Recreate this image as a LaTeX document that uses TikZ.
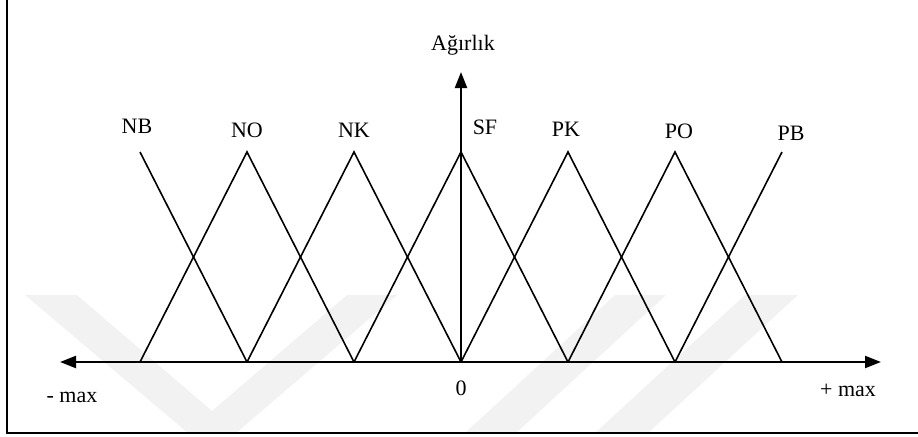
\documentclass[tikz,border=0pt]{standalone}
\usepackage{fontspec}
\setmainfont{Liberation Serif}
\usetikzlibrary{arrows.meta}
\tikzset{
    %Define standard arrow tip
    >={Triangle[length=8pt,width=6pt]},
    %Define style for labels
    lbl/.style={
           inner sep=0pt,
           font=\fontsize{11}{13}\selectfont},
    % Define line styles
    mf/.style={
           line width=0.8pt},
    axis/.style={
           line width=1.1pt},
    wmark/.style={
           fill=black!5,
           draw=none}
}

\begin{document}
\begin{tikzpicture}[x=0.5pt,y=-0.5pt]
\useasboundingbox (0,0) rectangle (918,436);
% faint bands behind the plot
\fill[wmark] (25,295) -- (77,295) -- (212,411) -- (347,295) -- (397,295) -- (236,433) -- (188,433) -- cycle;
\fill[wmark] (615,295) -- (666,295) -- (516,433) -- (465,433) -- cycle;
\fill[wmark] (745,295) -- (798,295) -- (648,433) -- (595,433) -- cycle;
% frame
\draw[line width=1.2pt] (7,0) -- (7,433) -- (918,433);
% peaks and feet of the membership functions
\foreach \i in {0,...,6} {
    \coordinate (p\i) at ({140+107*\i},152);
    \coordinate (b\i) at ({140+107*\i},362);
}
\coordinate (xl) at (60,362);
\coordinate (xr) at (881,362);
\coordinate (ytop) at (461,72);
% membership functions
\draw[mf] (p0) -- (b1);
\foreach \i [evaluate=\i as \l using int(\i-1), evaluate=\i as \r using int(\i+1)] in {1,...,5}
    \draw[mf] (b\l) -- (p\i) -- (b\r);
\draw[mf] (b5) -- (p6);
% axes
\draw[axis,<->] (xl) -- (xr);
\draw[axis,->] (b3) -- (ytop);
% labels
\foreach \n/\t/\x/\y in {nb/NB/137/126, no/NO/247/130, nk/NK/354/130, sf/SF/485/127,
                         pk/PK/566/129, po/PO/679/131, pb/PB/791/133}
    \node[lbl] (\n) at (\x,\y) {\t};
\node[lbl] (w) at (463,45) {Ağırlık};
\node[lbl] (zero) at (461,388) {0};
\node[lbl] (mmin) at (72,397) {- max};
\node[lbl] (mmax) at (848,390) {+ max};
\end{tikzpicture}
\end{document}
